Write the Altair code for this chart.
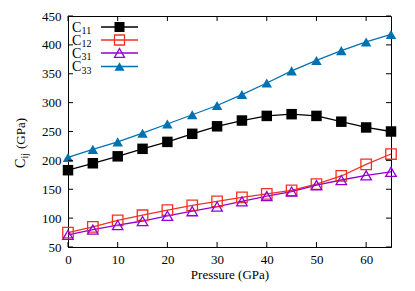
import altair as alt
import pandas as pd

pressure = [0, 5, 10, 15, 20, 25, 30, 35, 40, 45, 50, 55, 60, 65]
c11 = [183, 195, 207, 220, 232, 246, 259, 269, 277, 280, 277, 267, 257, 250]
c12 = [75, 85, 96, 105, 114, 122, 129, 136, 142, 148, 159, 173, 193, 211]
c31 = [71, 80, 88, 95, 104, 112, 120, 129, 138, 146, 157, 166, 174, 180]
c33 = [205, 219, 232, 247, 263, 279, 295, 314, 334, 355, 373, 390, 405, 418]

series_names = ["C11", "C12", "C31", "C33"]
series_subs = ["11", "12", "31", "33"]
series_colors = ["#000000", "#ee3322", "#9400d3", "#0072b2"]
series_shapes = ["square", "square", "triangle-up", "triangle-up"]
series_filled = [True, False, False, True]
series_vals = [c11, c12, c31, c33]

x_ticks = [0, 10, 20, 30, 40, 50, 60]
y_ticks = [50, 100, 150, 200, 250, 300, 350, 400, 450]

W, H = 323, 231
FONT = "Liberation Serif"

rows = []
for name, vals in zip(series_names, series_vals):
    for p, v in zip(pressure, vals):
        rows.append({"series": name, "p": p, "v": v})
df = pd.DataFrame(rows)

xs = alt.Scale(domain=[0, 65], nice=False)
ys = alt.Scale(domain=[50, 450], nice=False)
cs = alt.Scale(domain=series_names, range=series_colors)
ss = alt.Scale(domain=series_names, range=series_shapes)

xaxis = alt.Axis(values=x_ticks, title="Pressure (GPa)", grid=False, ticks=False,
                 labelPadding=6, titlePadding=2, labelFlush=False)
yaxis = alt.Axis(values=y_ticks, title=None, grid=False, ticks=False, labelPadding=7)

X = lambda f: alt.X(f, scale=xs, axis=xaxis)
Y = lambda f: alt.Y(f, scale=ys, axis=yaxis)

base = alt.Chart(df)
lines = base.mark_line(strokeWidth=1.3).encode(
    x=X("p:Q"), y=Y("v:Q"),
    color=alt.Color("series:N", scale=cs, legend=None),
    detail="series:N",
)

filled_names = [n for n, f in zip(series_names, series_filled) if f]
open_names = [n for n, f in zip(series_names, series_filled) if not f]

pts_filled = base.transform_filter(
    alt.FieldOneOfPredicate(field="series", oneOf=filled_names)
).mark_point(filled=True, size=110, opacity=1).encode(
    x=X("p:Q"), y=Y("v:Q"),
    color=alt.Color("series:N", scale=cs, legend=None),
    shape=alt.Shape("series:N", scale=ss, legend=None),
)
pts_open = base.transform_filter(
    alt.FieldOneOfPredicate(field="series", oneOf=open_names)
).mark_point(filled=False, size=110, strokeWidth=1.3, opacity=1).encode(
    x=X("p:Q"), y=Y("v:Q"),
    color=alt.Color("series:N", scale=cs, legend=None),
    shape=alt.Shape("series:N", scale=ss, legend=None),
)

# inward ticks on all four sides
xt = pd.DataFrame({"p": x_ticks})
yt = pd.DataFrame({"v": y_ticks})
tick_style = dict(color="black", strokeWidth=1)
xb = alt.Chart(xt).mark_rule(**tick_style).encode(
    x=X("p:Q"), y=alt.value(H), y2=alt.value(H - 5))
xtop = alt.Chart(xt).mark_rule(**tick_style).encode(
    x=X("p:Q"), y=alt.value(0), y2=alt.value(5))
yl = alt.Chart(yt).mark_rule(**tick_style).encode(
    y=Y("v:Q"), x=alt.value(0), x2=alt.value(5))
yr = alt.Chart(yt).mark_rule(**tick_style).encode(
    y=Y("v:Q"), x=alt.value(W), x2=alt.value(W - 5))

# manual legend
one = pd.DataFrame({"a": [0]})
legend_layers = []
leg_y = [11, 24, 37, 50.5]
for i, name in enumerate(series_names):
    yy = leg_y[i]
    legend_layers.append(alt.Chart(one).mark_rule(color=series_colors[i], strokeWidth=1.3).encode(
        x=alt.value(33), x2=alt.value(70), y=alt.value(yy)))
    legend_layers.append(alt.Chart(one).mark_point(
        shape=series_shapes[i], filled=series_filled[i], size=100,
        color=series_colors[i], opacity=1, strokeWidth=1.3).encode(
        x=alt.value(51.5), y=alt.value(yy)))
    legend_layers.append(alt.Chart(one).mark_text(
        text="C", font=FONT, fontSize=14, align="left", baseline="alphabetic", color="black").encode(
        x=alt.value(4), y=alt.value(yy + 4.5)))
    legend_layers.append(alt.Chart(one).mark_text(
        text=series_subs[i], font=FONT, fontSize=10, align="left", baseline="alphabetic", color="black").encode(
        x=alt.value(13.5), y=alt.value(yy + 7)))

# y-axis title with subscript
ytitle = [
    alt.Chart(one).mark_text(text="C", font=FONT, fontSize=14, angle=270, align="left",
                             baseline="alphabetic", color="black").encode(
        x=alt.value(-43), y=alt.value(152)),
    alt.Chart(one).mark_text(text="ij", font=FONT, fontSize=10, angle=270, align="left",
                             baseline="alphabetic", color="black").encode(
        x=alt.value(-40), y=alt.value(142.5)),
    alt.Chart(one).mark_text(text="(GPa)", font=FONT, fontSize=13, angle=270, align="left",
                             baseline="alphabetic", color="black").encode(
        x=alt.value(-43), y=alt.value(133)),
]

chart = alt.layer(lines, pts_open, pts_filled, xb, xtop, yl, yr, *legend_layers, *ytitle).properties(
    width=W, height=H,
    autosize=alt.AutoSizeParams(type="none"),
    padding={"left": 60, "top": 8, "right": 16, "bottom": 36},
    background="white",
).configure_view(stroke="black", strokeWidth=1).configure_axis(
    labelFont=FONT, titleFont=FONT, labelFontSize=13, titleFontSize=13,
    labelColor="black", titleColor="black", titleFontWeight="normal",
    domainColor="black", domainWidth=1,
)

chart.save("out.html", embed_options={"renderer": "svg", "actions": False})
